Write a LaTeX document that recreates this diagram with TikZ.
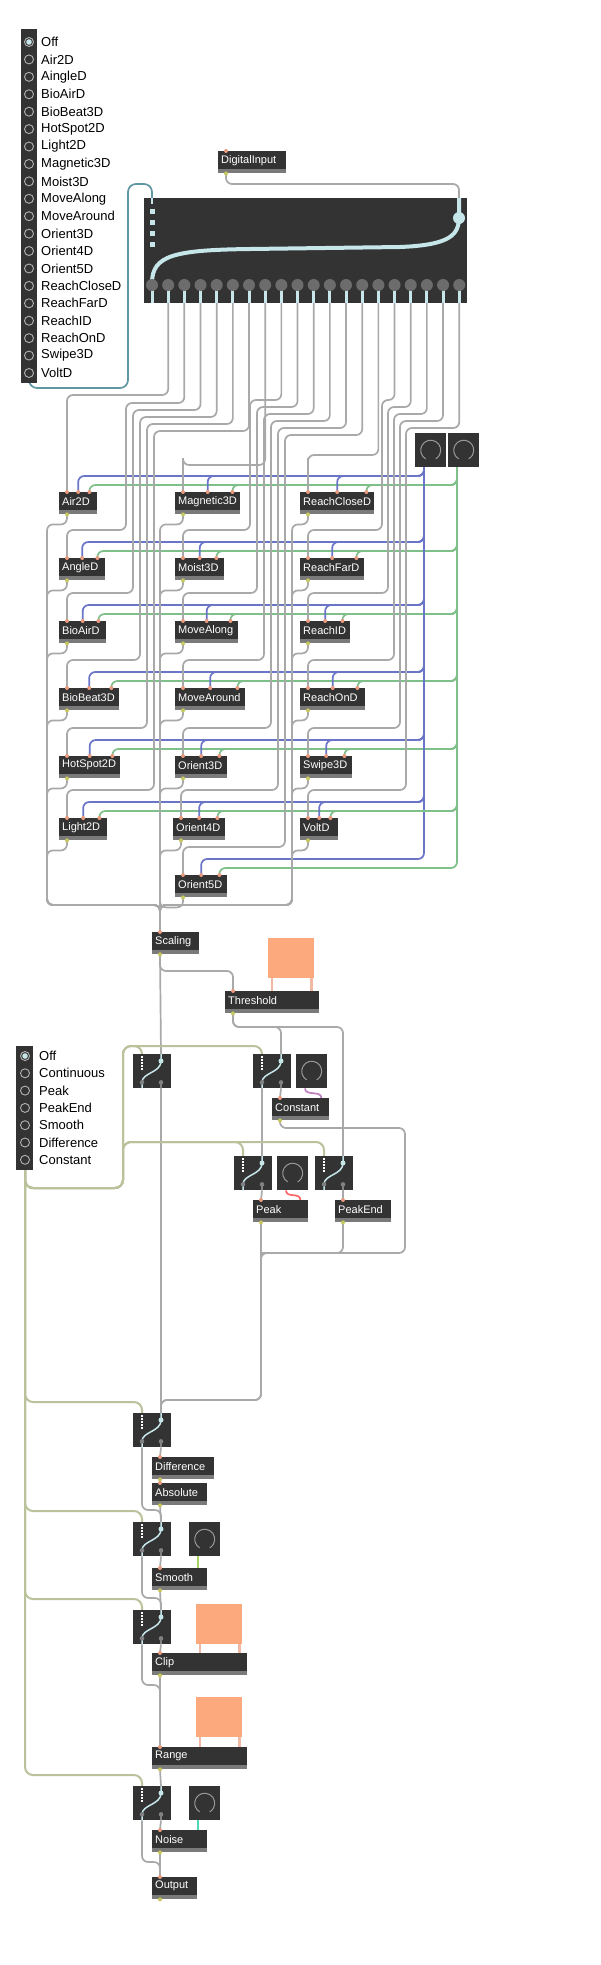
\documentclass[tikz,border=0pt]{standalone}
\usepackage{fontspec}
\setmainfont{Liberation Sans}
\usetikzlibrary{calc}
\pgfdeclarelayer{bg}\pgfsetlayers{bg,main}
\definecolor{objbg}{HTML}{333333}
\definecolor{objbar}{HTML}{7A7A7A}
\definecolor{cabc}{HTML}{A9A9A9}
\definecolor{bluec}{HTML}{6A75C8}
\definecolor{greenc}{HTML}{7FBF8A}
\definecolor{olivec}{HTML}{B9C29A}
\definecolor{tealc}{HTML}{5F97A3}
\definecolor{lbc}{HTML}{C6E6EA}
\definecolor{orangec}{HTML}{FCAA7D}
\definecolor{inlc}{HTML}{E89A80}
\definecolor{outc}{HTML}{C8C860}
\definecolor{stubc}{HTML}{F1B9A3}
\newcommand\mobj[5]{%
  \node[objbox, minimum width=#4pt] (#1) at (#2,#3) {};
  \fill[objbar] ($(#1.south west)+(0,-4)$) rectangle (#1.south east);
  \node[lbl, anchor=west] (#1-t) at ($(#1.west)+(3,-2)$) {#5};
  \coordinate (#1-i1) at ($(#1.north west)+(8,0)$);
  \coordinate (#1-i2) at (#1.north);
  \coordinate (#1-i3) at ($(#1.north east)+(-8,0)$);
  \coordinate (#1-o) at ($(#1.south west)+(8,0)$);
  \fill[inlc] (#1-i1) circle (2);
  \fill[outc] (#1-o) circle (2);}
\newcommand\mgate[3]{%
  \node[objbox, minimum width=38pt, minimum height=34pt] (#1) at (#2,#3) {};
  \coordinate (#1-i1) at ($(#1.north west)+(9,0)$);
  \coordinate (#1-i2) at ($(#1.north west)+(28,0)$);
  \coordinate (#1-o1) at ($(#1.south west)+(9,0)$);
  \coordinate (#1-o2) at ($(#1.south west)+(28,0)$);
  \draw[white, line width=1.2pt, dash pattern=on 1.5pt off 1.5pt] ($(#1-i1)+(0,2)$) -- ++(0,14);
  \draw[lbc, line width=1.5pt] ($(#1-o1)+(0,0)$) -- ++(0,-6) .. controls ++(0,-10) and ++(0,12) .. ($(#1-i2)+(0,7)$) -- (#1-i2);
  \fill[lbc] ($(#1-i2)+(0,7)$) circle (2.5);
  \fill[gray] ($(#1-o1)+(0,-6)$) circle (2.3);
  \fill[gray] ($(#1-o2)+(0,-6)$) circle (2.3);
  \draw[gray, line width=1.2pt] ($(#1-o2)+(0,-6)$) -- (#1-o2);}
\newcommand\mknob[3]{%
  \node[objbox, minimum width=31pt, minimum height=34pt] (#1) at (#2,#3) {};
  \draw[gray!80, line width=1pt] ($(#1.center)+(-240:10)$) arc[start angle=-240, end angle=60, radius=10];
  \coordinate (#1-o) at ($(#1.south west)+(9,0)$);}
\newcommand\morange[3]{%
  \node[fill=orangec, draw=none, anchor=north west, minimum width=46pt, minimum height=40pt, inner sep=0] (#1) at (#2,#3) {};}
\begin{document}
\begin{tikzpicture}[x=1pt,y=-1pt,
  objbox/.style={fill=objbg, draw=none, anchor=north west, minimum height=22pt, inner sep=0},
  lbl/.style={text=white, font=\fontsize{11}{12}\selectfont, inner sep=0},
  rlbl/.style={text=black, font=\fontsize{13}{14}\selectfont, inner sep=0, anchor=west},
  cab/.style={cabc, line width=1.7pt, rounded corners=6pt},
  bcab/.style={bluec, line width=1.7pt, rounded corners=6pt},
  gcab/.style={greenc, line width=1.7pt, rounded corners=6pt},
  ocab/.style={olivec, line width=2pt, rounded corners=8pt},
  stub/.style={stubc, line width=2.5pt}]
\useasboundingbox (0,0) rectangle (600,1965);
\begin{pgfonlayer}{bg}\fill[white] (0,0) rectangle (600,1965);\end{pgfonlayer}

% radio 1
\node[objbox, minimum width=16pt, minimum height=354pt] (r1) at (21,29) {};
\coordinate (r1-o) at (29,383);
\foreach \t [count=\i from 0] in {Off,Air2D,AingleD,BioAirD,BioBeat3D,HotSpot2D,Light2D,Magnetic3D,Moist3D,MoveAlong,MoveAround,Orient3D,Orient4D,Orient5D,ReachCloseD,ReachFarD,ReachID,ReachOnD,Swipe3D,VoltD}{
  \draw[gray!60, line width=0.9pt] (29,42+17.42*\i) circle (4.5);
  \node[rlbl] (r1t\i) at (41,42+17.42*\i) {\t};}
\fill[lbc] (29,42) circle (2.8);

% radio 2
\node[objbox, minimum width=17pt, minimum height=124pt] (r2) at (16,1046) {};
\coordinate (r2-o) at (25,1170);
\foreach \t [count=\i from 0] in {Off,Continuous,Peak,PeakEnd,Smooth,Difference,Constant}{
  \draw[gray!60, line width=0.9pt] (25,1056+17.3*\i) circle (4.5);
  \node[rlbl] (r2t\i) at (39,1056+17.3*\i) {\t};}
\fill[lbc] (25,1056) circle (2.8);

% digital input & big gate
\mobj{di}{218}{151}{68}{DigitalInput}
\node[objbox, minimum width=323pt, minimum height=105pt] (bg) at (144,198) {};
\coordinate (bg-i1) at (152,198);
\coordinate (bg-i2) at (459,198);
\draw[lbc, line width=2.5pt] (152,198) -- (152,204);
\foreach \j in {0,...,3}{\fill[lbc] (149.5,209+11*\j) rectangle ++(5,5);}
\draw[lbc, line width=4pt] (152,283) .. controls (152,255) and (175,250) .. (250,249) -- (400,247) .. controls (450,245) and (459,235) .. (459,217) -- (459,198);
\fill[lbc] (459,218) circle (6);
\foreach \k in {0,...,19}{
  \pgfmathsetmacro\ox{152+16.17*\k}
  \coordinate (bg-o\k) at (\ox,303);
  \draw[lbc, line width=3pt] (\ox,289) -- (\ox,303);
  \fill[gray!85!black] (\ox,285) circle (6);}

% knobs
\mknob{ka}{415}{433}
\mknob{kb}{448}{433}

% modules
\foreach \nm/\x/\y/\w/\lab in {air/59/492/38/Air2D,angle/59/558/46/AngleD,bioair/59/621/47/BioAirD,biobeat/59/688/60/BioBeat3D,hotspot/59/756/61/HotSpot2D,light/59/818/48/Light2D,
 magn/175/492/65/Magnetic3D,moist/175/558/49/Moist3D,malong/175/621/63/MoveAlong,maround/175/688/70/MoveAround,or3/175/756/52/Orient3D,or4/173/818/52/Orient4D,or5/175/875/52/Orient5D,
 rclose/300/492/74/ReachCloseD,rfar/300/558/64/ReachFarD,rid/300/621/50/ReachID,ron/300/688/65/ReachOnD,swipe/300/756/52/Swipe3D,volt/300/818/38/VoltD}{
  \mobj{\nm}{\x}{\y}{\w}{\lab}
  \fill[inlc] (\nm-i2) circle (2); \fill[inlc] (\nm-i3) circle (2);}

% lower objects
\mobj{sc}{152}{932}{47}{Scaling}
\morange{ot}{268}{938}
\mobj{th}{225}{991}{94}{Threshold}
\mgate{g1}{133}{1054}
\mgate{g2}{253}{1054}
\mknob{kc}{296}{1054}
\mobj{co}{272}{1098}{57}{Constant}
\mgate{g3}{234}{1156}
\mknob{kp}{277}{1156}
\mgate{g4}{315}{1156}
\mobj{pk}{253}{1200}{55}{Peak}
\mobj{pe}{335}{1200}{56}{PeakEnd}
\mgate{g5}{133}{1413}
\mobj{df}{152}{1457}{62}{Difference}
\mobj{ab}{152}{1483}{55}{Absolute}
\mgate{g6}{133}{1522}
\mknob{ks}{189}{1522}
\mobj{sm}{152}{1568}{55}{Smooth}
\mgate{g7}{133}{1610}
\morange{oc}{196}{1604}
\mobj{cl}{152}{1653}{95}{Clip}
\morange{orr}{196}{1697}
\mobj{rg}{152}{1747}{95}{Range}
\mgate{g8}{133}{1786}
\mknob{kn}{189}{1786}
\mobj{no}{152}{1830}{55}{Noise}
\mobj{out}{152}{1877}{45}{Output}

\begin{pgfonlayer}{bg}
\draw[cab] (di-o) |- ($(bg-i2)+(0,-14)$) -- (bg-i2);
\draw[tealc, line width=1.7pt, rounded corners=8pt] (r1-o) |- (128,388) |- ($(bg-i1)+(0,-14)$) -- (bg-i1);
% gate outlets to modules
\foreach \nm/\k/\L/\yA in {air/1/67/395,angle/2/126/403,bioair/3/133/410,biobeat/4/140/417,hotspot/5/147/424,light/6/154/431,
 magn/7/183/465,moist/8/250/400,malong/9/257/407,maround/10/264/414,or3/11/271/421,or4/12/278/428,or5/13/285/435,
 rclose/14/308/455,rfar/15/382/400,rid/16/388/407,ron/17/394/414,swipe/18/400/421,volt/19/406/428}{
  \draw[cab] (bg-o\k) |- (\L,\yA) |- ($(\nm-i1)+(0,-28)$) -- (\nm-i1);
  \draw[bcab] (ka-o) |- ($(\nm-i2)+(0,-16)$) -- (\nm-i2);
  \draw[gcab] (kb-o) |- ($(\nm-i3)+(0,-7)$) -- (\nm-i3);}
% module outlets to scaling
\foreach \nm in {air,angle,bioair,biobeat,hotspot,light}{
  \draw[cab] (\nm-o) -- ++(0,10) -| (47,905) -| (sc-i1);}
\foreach \nm in {magn,moist,malong,maround,or3,or4,or5}{
  \draw[cab] (\nm-o) -- ++(0,10) -| (160,905) -- (sc-i1);}
\foreach \nm in {rclose,rfar,rid,ron,swipe,volt}{
  \draw[cab] (\nm-o) -- ++(0,10) -| (292,905) -| (sc-i1);}
% lower
\draw[cab] (sc-o) -- (g1-i2);
\draw[cab] (sc-o) |- ($(th-i1)+(0,-20)$) -- (th-i1);
\draw[stub] (th-i2 |- ot.south) -- (th-i2);
\draw[stub] (th-i3 |- ot.south) -- (th-i3);
\draw[cab] (th-o) |- ($(g2-i2)+(0,-27)$) -- (g2-i2);
\draw[cab] (th-o) |- ($(g4-i2)+(0,-129)$) -- (g4-i2);
\draw[cab] (g2-o1) -- (g3-i2);
\draw[cab] (g2-o2) -- (co-i1);
\draw[violet!50, line width=1.7pt] (kc-o) .. controls +(0,8) and +(0,-8) .. (co-i3);
\draw[red!60, line width=1.7pt] (kp-o) .. controls +(0,8) and +(0,-8) .. (pk-i3);
\draw[cab] (g3-o2) -- (pk-i1);
\draw[cab] (g4-o2) -- (pe-i1);
\draw[cab] (co-o) |- (405,1128) |- (261,1253) |- ($(g5-i2)+(0,-13)$) -- (g5-i2);
\draw[cab] (pk-o) |- ($(g5-i2)+(0,-13)$) -- (g5-i2);
\draw[cab] (pe-o) |- (261,1253);
\draw[cab] (g1-o2) -- (g5-i2);
\draw[ocab] (r2-o) |- (123,1188) |- ($(g1-i1)+(0,-8)$) -- (g1-i1);
\draw[ocab] (r2-o) |- (123,1188) |- ($(g2-i1)+(0,-8)$) -- (g2-i1);
\draw[ocab] (r2-o) |- (123,1188) |- ($(g3-i1)+(0,-14)$) -- (g3-i1);
\draw[ocab] (r2-o) |- (123,1188) |- ($(g4-i1)+(0,-14)$) -- (g4-i1);
\foreach \g in {g5,g6,g7,g8}{\draw[ocab] (r2-o) |- ($(\g-i1)+(0,-11)$) -- (\g-i1);}
\draw[cab] (g5-o2) -- (df-i1);
\draw[cab] (df-o) -- (ab-i1);
\draw[cab] (ab-o) -- (g6-i2);
\draw[cab] (g5-o1) |- ($(g6-i2)+(0,-12)$) -- (g6-i2);
\draw[cab] (g6-o2) -- (sm-i1);
\draw[greenc!70!yellow, line width=1.7pt] (ks-o) -- (ks-o |- sm-i3);
\draw[cab] (g6-o1) |- ($(g7-i2)+(0,-12)$) -- (g7-i2);
\draw[cab] (sm-o) -- (g7-i2);
\draw[cab] (g7-o2) -- (cl-i1);
\draw[stub] (200,1643) -- (200,1653);
\draw[stub] (cl-i3 |- oc.south) -- (cl-i3);
\draw[cab] (g7-o1) |- ($(rg-i1)+(0,-62)$) -- (rg-i1);
\draw[cab] (cl-o) -- (rg-i1);
\draw[stub] (200,1736) -- (200,1747);
\draw[stub] (rg-i3 |- orr.south) -- (rg-i3);
\draw[cab] (rg-o) -- (g8-i2);
\draw[cab] (g8-o2) -- (no-i1);
\draw[greenc!60!cyan, line width=1.7pt] (kn-o) -- (kn-o |- no-i3);
\draw[cab] (g8-o1) |- ($(out-i1)+(0,-15)$) -- (out-i1);
\draw[cab] (no-o) -- (out-i1);
\end{pgfonlayer}
\end{tikzpicture}
\end{document}
